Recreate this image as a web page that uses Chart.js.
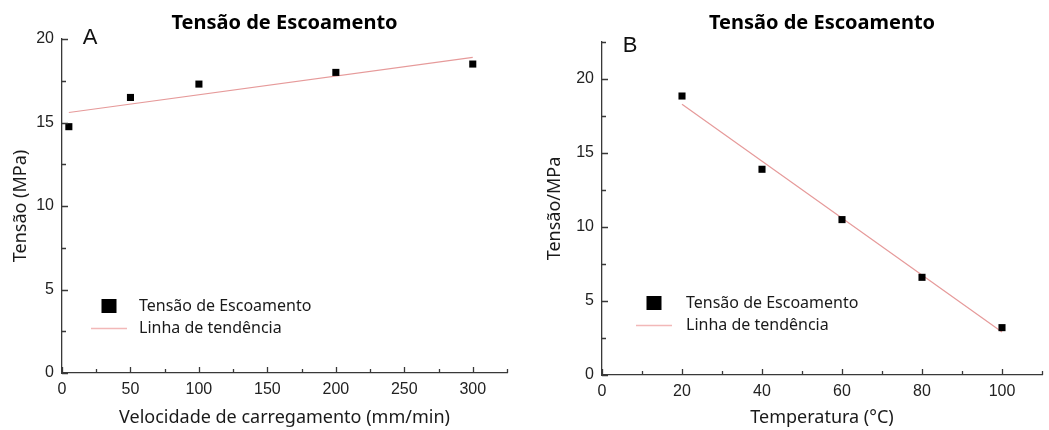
<!DOCTYPE html>
<html>
<head>
<meta charset="utf-8">
<script src="https://cdn.jsdelivr.net/npm/chart.js@4.4.1/dist/chart.umd.min.js"></script>
<style>
  html, body { margin: 0; padding: 0; background: #ffffff; }
  #wrap { position: relative; width: 1049px; height: 430px; overflow: hidden; background: #fff; }
  #wrap canvas { position: absolute; top: 0; }
</style>
</head>
<body>
<div id="wrap">
  <canvas id="chartA" width="524" height="430" style="left:0px"></canvas>
  <canvas id="chartB" width="525" height="430" style="left:524px"></canvas>
</div>
<script>
// ---- data ----
const speedValues = [5, 50, 100, 200, 300];
const speedStress = [14.75, 16.5, 17.3, 18.0, 18.5];
const speedTrendX = [5, 300];
const speedTrendY = [15.6, 18.9];
const speedTickLabels = [0, 50, 100, 150, 200, 250, 300];

const tempValues = [20, 40, 60, 80, 100];
const tempStress = [18.85, 13.9, 10.5, 6.6, 3.2];
const tempTrendX = [20, 100];
const tempTrendY = [18.3, 2.9];
const tempTickLabels = [0, 20, 40, 60, 80, 100];

const stressTickLabels = [0, 5, 10, 15, 20];

const chartTitle = 'Tensão de Escoamento';
const legendLabels = ['Tensão de Escoamento', 'Linha de tendência'];
const panelLetters = ['A', 'B'];
const xTitles = ['Velocidade de carregamento (mm/min)', 'Temperatura (°C)'];
const yTitles = ['Tensão (MPa)', 'Tensão/MPa'];

// ---- styles ----
const AXIS_COLOR = '#383838';
const TICK_COLOR = '#222222';
const TREND_COLOR = '#e69a9a';
const LEGEND_LINE_COLOR = '#f2b8b8';
const TEXT_FONT = '"Noto Sans", "Open Sans", sans-serif';
const TICK_FONT = '"Liberation Sans", Arial, sans-serif';

const toPoints = (xs, ys) => xs.map((x, i) => ({ x: x, y: ys[i] }));

// inward tick marks drawn from the chart's own scales
const inwardTicks = {
  id: 'inwardTicks',
  afterDraw(chart, args, opts) {
    const { ctx, chartArea } = chart;
    const xs = chart.scales.x, ys = chart.scales.y;
    ctx.save();
    ctx.strokeStyle = AXIS_COLOR;
    ctx.lineWidth = 1.3;
    ctx.beginPath();
    xs.ticks.forEach(t => {
      const px = Math.round(xs.getPixelForValue(t.value)) + 0.5;
      const len = opts.xMajor.includes(t.value) ? 6 : 4;
      ctx.moveTo(px, chartArea.bottom);
      ctx.lineTo(px, chartArea.bottom - len);
    });
    ys.ticks.forEach(t => {
      const py = Math.round(ys.getPixelForValue(t.value)) + 0.5;
      const len = opts.yMajor.includes(t.value) ? 6 : 4;
      ctx.moveTo(chartArea.left, py);
      ctx.lineTo(chartArea.left + len, py);
    });
    ctx.stroke();
    ctx.restore();
  }
};

// panel letter and in-plot legend
const panelDecor = {
  id: 'panelDecor',
  afterDraw(chart, args, o) {
    const { ctx } = chart;
    ctx.save();
    ctx.fillStyle = '#111';
    ctx.font = '22px ' + TICK_FONT;
    ctx.textAlign = 'center';
    ctx.textBaseline = 'alphabetic';
    ctx.fillText(o.letter, o.letterX, o.letterY);

    const ds = chart.data.datasets;
    // marker entry
    ctx.fillStyle = '#000';
    ctx.fillRect(o.legX - 7.5, o.legY1 - 7, 15, 14);
    // line entry
    ctx.strokeStyle = LEGEND_LINE_COLOR;
    ctx.lineWidth = 1.3;
    ctx.beginPath();
    ctx.moveTo(o.legX - 18, o.legY2 + 0.5);
    ctx.lineTo(o.legX + 18, o.legY2 + 0.5);
    ctx.stroke();

    ctx.fillStyle = '#1a1a1a';
    ctx.font = '16px ' + TEXT_FONT;
    ctx.textAlign = 'left';
    ctx.textBaseline = 'middle';
    ctx.fillText(ds[0].label, o.textX, o.legY1);
    ctx.fillText(ds[1].label, o.textX, o.legY2);
    ctx.restore();
  }
};

function makePanel(canvasId, p) {
  return new Chart(document.getElementById(canvasId), {
    type: 'scatter',
    data: {
      datasets: [
        {
          label: legendLabels[0],
          data: toPoints(p.xVals, p.yVals),
          pointStyle: 'rect',
          pointRadius: 5,
          pointHoverRadius: 5,
          pointBorderWidth: 0,
          backgroundColor: '#000',
          borderColor: '#000',
          showLine: false,
          order: 1
        },
        {
          label: legendLabels[1],
          type: 'line',
          data: toPoints(p.trendX, p.trendY),
          borderColor: TREND_COLOR,
          borderWidth: 1.2,
          pointRadius: 0,
          fill: false,
          tension: 0,
          order: 2
        }
      ]
    },
    options: {
      responsive: false,
      animation: false,
      devicePixelRatio: 1,
      layout: { padding: { left: 0, right: p.padRight, top: 0, bottom: 0 } },
      plugins: {
        legend: { display: false },
        tooltip: { enabled: false },
        title: {
          display: true,
          text: chartTitle,
          fullSize: false,
          color: '#000',
          font: { family: TEXT_FONT, size: 20, weight: 'bold', lineHeight: 1.2 },
          padding: { top: p.titleTop, bottom: p.titleBottom }
        },
        inwardTicks: { xMajor: p.xLabels, yMajor: stressTickLabels },
        panelDecor: p.decor
      },
      scales: {
        x: {
          type: 'linear',
          min: 0, max: p.xMax,
          afterFit: s => { s.height = p.xAxisHeight; },
          border: { display: true, color: AXIS_COLOR, width: 1.3 },
          grid: { display: false, drawTicks: false },
          ticks: {
            stepSize: p.xStep,
            autoSkip: false,
            maxRotation: 0,
            padding: 7,
            color: TICK_COLOR,
            font: { family: TICK_FONT, size: 16 },
            callback: v => p.xLabels.includes(v) ? String(v) : ''
          },
          title: {
            display: true,
            text: p.xTitle,
            color: '#1a1a1a',
            font: { family: TEXT_FONT, size: 18, lineHeight: 1.2 },
            padding: { top: 0, bottom: 1 }
          }
        },
        y: {
          type: 'linear',
          min: 0, max: p.yMax,
          afterFit: s => { s.width = p.yAxisWidth; },
          border: { display: true, color: AXIS_COLOR, width: 1.3 },
          grid: { display: false, drawTicks: false },
          ticks: {
            stepSize: 2.5,
            autoSkip: false,
            padding: 8,
            color: TICK_COLOR,
            font: { family: TICK_FONT, size: 16 },
            callback: v => stressTickLabels.includes(v) ? String(v) : ''
          },
          title: {
            display: true,
            text: p.yTitle,
            color: '#1a1a1a',
            font: { family: TEXT_FONT, size: 18, lineHeight: 1.2 },
            padding: { top: p.yTitlePad, bottom: 0 }
          }
        }
      }
    },
    plugins: [inwardTicks, panelDecor]
  });
}

makePanel('chartA', {
  xVals: speedValues, yVals: speedStress,
  trendX: speedTrendX, trendY: speedTrendY,
  xLabels: speedTickLabels, xMax: 325, xStep: 25, yMax: 20,
  xTitle: xTitles[0], yTitle: yTitles[0],
  padRight: 17, xAxisHeight: 57, yAxisWidth: 62,
  titleTop: 11, titleBottom: 4, yTitlePad: 10,
  decor: { letter: panelLetters[0], letterX: 90, letterY: 44, legX: 109, legY1: 306, legY2: 328, textX: 139 }
});

makePanel('chartB', {
  xVals: tempValues, yVals: tempStress,
  trendX: tempTrendX, trendY: tempTrendY,
  xLabels: tempTickLabels, xMax: 110, xStep: 10, yMax: 22.5,
  xTitle: xTitles[1], yTitle: yTitles[1],
  padRight: 1, xAxisHeight: 55, yAxisWidth: 78,
  titleTop: 11, titleBottom: 7, yTitlePad: 20,
  decor: { letter: panelLetters[1], letterX: 106, letterY: 52, legX: 130, legY1: 303, legY2: 325, textX: 162 }
});
</script>
</body>
</html>
